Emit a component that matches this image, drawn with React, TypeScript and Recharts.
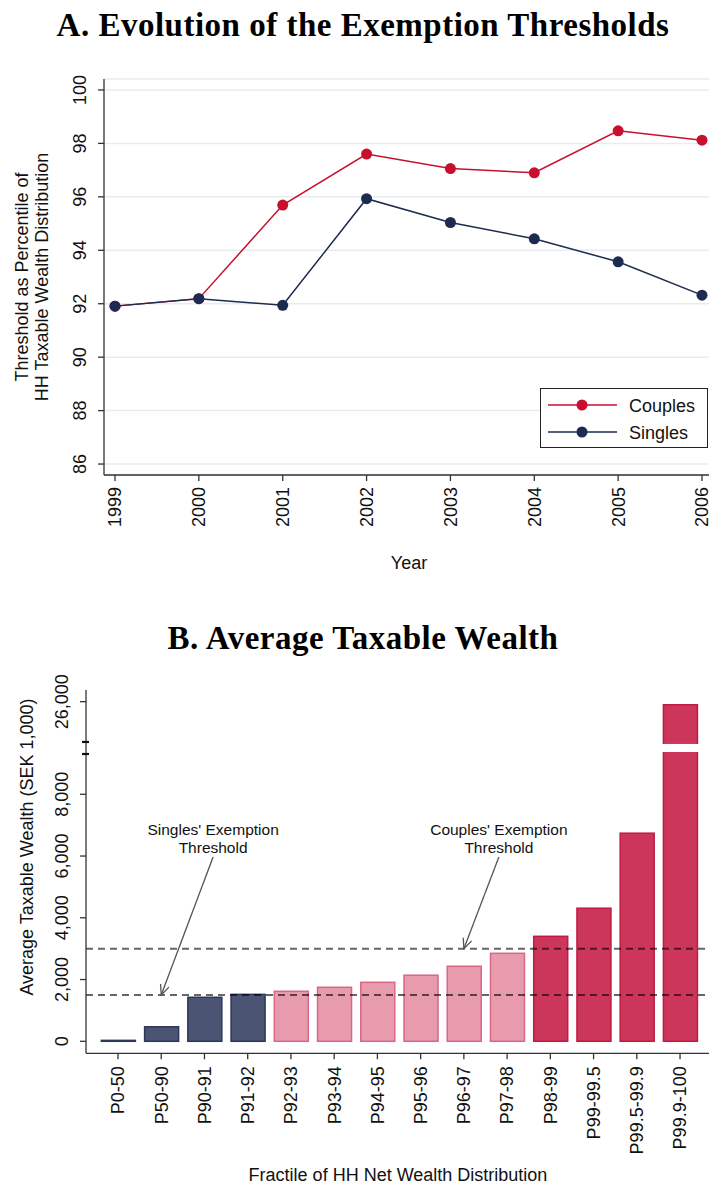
import React from 'react';
import {
  Bar,
  BarChart,
  CartesianGrid,
  Legend,
  Line,
  LineChart,
  ReferenceDot,
  ReferenceLine,
  XAxis,
  YAxis,
} from 'recharts';

// Panel A: exemption thresholds as percentile of the HH taxable wealth distribution
const YEARS = ['1999', '2000', '2001', '2002', '2003', '2004', '2005', '2006'];
const COUPLES = [91.91, 92.19, 95.69, 97.6, 97.06, 96.9, 98.47, 98.12];
const SINGLES = [91.91, 92.19, 91.94, 95.93, 95.04, 94.43, 93.57, 92.32];
const PERCENTILE_TICKS = [86, 88, 90, 92, 94, 96, 98, 100];

// Panel B: average taxable wealth by fractile (SEK 1,000)
const FRACTILES = [
  'P0-50', 'P50-90', 'P90-91', 'P91-92', 'P92-93', 'P93-94', 'P94-95',
  'P95-96', 'P96-97', 'P97-98', 'P98-99', 'P99-99.5', 'P99.5-99.9', 'P99.9-100',
];
const AVG_WEALTH = [30, 470, 1425, 1520, 1620, 1750, 1910, 2140, 2430, 2850, 3400, 4310, 6740, 25900];
const FRACTILE_GROUP = [
  'below', 'below', 'below', 'below',
  'between', 'between', 'between', 'between', 'between', 'between',
  'above', 'above', 'above', 'above',
];
const WEALTH_TICKS = [0, 2000, 4000, 6000, 8000, 26000];
const SINGLES_THRESHOLD = 1500;
const COUPLES_THRESHOLD = 3000;

const SANS = '"Liberation Sans", Arial, sans-serif';
const SERIF = '"Liberation Serif", "Times New Roman", serif';
const RED = '#c8102e';
const NAVY = '#1e2b50';
const AXIS = '#333';

const GROUP_STYLE: Record<string, { fill: string; stroke: string }> = {
  below: { fill: '#4b5573', stroke: '#2c375a' },
  between: { fill: '#e79bad', stroke: '#da6785' },
  above: { fill: '#cc365b', stroke: '#c11a43' },
};

// broken y axis in panel B: values above CUT_AT are pulled down by CUT_SIZE
const CUT_AT = 9500;
const CUT_SIZE = 15000;
const toAxis = (v: number) => (v > CUT_AT ? v - CUT_SIZE : v);
const fromAxis = (v: number) => (v > CUT_AT ? v + CUT_SIZE : v);
const BREAK_MARKS = [CUT_AT - 195, CUT_AT + 195];

const lineData = YEARS.map((year, i) => ({ year, couples: COUPLES[i], singles: SINGLES[i] }));
const barData = FRACTILES.map((label, i) => ({
  idx: i,
  label,
  wealth: AVG_WEALTH[i],
  axisValue: toAxis(AVG_WEALTH[i]),
  group: FRACTILE_GROUP[i],
}));

const tickText = { fontFamily: SANS, fontSize: 18, fill: '#111' };

// vertical tick label reading bottom-to-top, baseline at x + shift
function VerticalTick(props: any) {
  const { x, y, payload, anchor, shift = 0, format } = props;
  const bx = x + shift;
  const label = format ? format(payload.value) : payload.value;
  return (
    <text x={bx} y={y} transform={`rotate(-90 ${bx} ${y})`} textAnchor={anchor} {...tickText}>
      {label}
    </text>
  );
}

// y ticks of panel B, drawn by hand so the axis break marks can sit among them
function WealthTick(props: any) {
  const { x, y, payload } = props;
  const axisX = x + 17.5;
  if (BREAK_MARKS.includes(payload.value)) {
    return <line x1={axisX - 4} x2={axisX + 3} y1={y} y2={y} stroke="#111" strokeWidth={2.2} />;
  }
  return (
    <g>
      <line x1={axisX - 6} x2={axisX} y1={y} y2={y} stroke={AXIS} strokeWidth={1.3} />
      <text x={x} y={y} transform={`rotate(-90 ${x} ${y})`} textAnchor="middle" {...tickText}>
        {fromAxis(payload.value).toLocaleString('en-US')}
      </text>
    </g>
  );
}

function WealthBar(props: any) {
  const { x, y, width, height, payload } = props;
  const style = GROUP_STYLE[payload.group];
  const bar = (
    <rect x={x} y={y} width={width} height={height} fill={style.fill} stroke={style.stroke} strokeWidth={1.5} />
  );
  if (payload.wealth <= CUT_AT) return bar;
  const pxPerUnit = height / payload.axisValue;
  const base = y + height;
  const gapTop = base - (CUT_AT + 130) * pxPerUnit;
  const gapBottom = base - (CUT_AT - 130) * pxPerUnit;
  return (
    <g>
      {bar}
      <rect x={x - 2} y={gapTop} width={width + 4} height={gapBottom - gapTop} fill="#fff" />
    </g>
  );
}

function Arrow(props: any) {
  const { x1, y1, x2, y2 } = props;
  const angle = Math.atan2(y2 - y1, x2 - x1);
  const len = 11;
  const spread = 0.42;
  const ax = x2 - len * Math.cos(angle - spread);
  const ay = y2 - len * Math.sin(angle - spread);
  const bx = x2 - len * Math.cos(angle + spread);
  const by = y2 - len * Math.sin(angle + spread);
  return (
    <g stroke="#555" strokeWidth={1.3} fill="none">
      <line x1={x1} y1={y1} x2={x2} y2={y2} />
      <polyline points={`${ax},${ay} ${x2},${y2} ${bx},${by}`} />
    </g>
  );
}

function annotation(lines: string[]) {
  return (props: any) => {
    const { cx, cy } = props;
    return (
      <text x={cx} textAnchor="middle" fontFamily={SANS} fontSize={15.5} fill="#111">
        {lines.map((l, i) => (
          <tspan key={l} x={cx} y={cy - 22 + i * 18}>
            {l}
          </tspan>
        ))}
      </text>
    );
  };
}

function ThresholdLegend(props: any) {
  const items = props.payload || [];
  return (
    <svg width={168} height={60} style={{ display: 'block' }}>
      <rect x={0.5} y={0.5} width={167} height={59} fill="#fff" stroke="#222" strokeWidth={1} />
      {items.map((item: any, i: number) => {
        const cy = 17 + i * 27;
        return (
          <g key={item.value}>
            <line x1={8} x2={77} y1={cy} y2={cy} stroke={item.color} strokeWidth={1.5} />
            <circle cx={42} cy={cy} r={5.5} fill={item.color} />
            <text x={89} y={cy + 6.5} {...tickText}>
              {item.value}
            </text>
          </g>
        );
      })}
    </svg>
  );
}

const title = {
  position: 'absolute' as const,
  left: 0,
  width: 726,
  textAlign: 'center' as const,
  fontFamily: SERIF,
  fontWeight: 700,
  fontSize: 33,
  letterSpacing: 0.5,
  lineHeight: '30px',
  color: '#000',
  whiteSpace: 'nowrap' as const,
};

const axisTitle = {
  position: 'absolute' as const,
  fontFamily: SANS,
  fontSize: 18,
  lineHeight: '20px',
  color: '#111',
  whiteSpace: 'nowrap' as const,
  textAlign: 'center' as const,
  transform: 'translate(-50%, -50%)',
};

export default function App() {
  return (
    <div style={{ position: 'absolute', left: 0, top: 0, width: 709, height: 1201, background: '#fff', overflow: 'hidden' }}>
      <div style={{ ...title, top: 10 }}>A. Evolution of the Exemption Thresholds</div>

      <div style={{ position: 'absolute', left: 0, top: 0 }}>
        <LineChart width={709} height={600} data={lineData} margin={{ top: 79, right: 0, bottom: 65, left: 0 }}>
          <CartesianGrid vertical={false} stroke="#e6edf1" strokeWidth={1.5} />
          <XAxis
            dataKey="year"
            padding={{ left: 11, right: 7 }}
            height={60}
            interval={0}
            axisLine={{ stroke: AXIS, strokeWidth: 1.3 }}
            tickLine={{ stroke: AXIS, strokeWidth: 1.3 }}
            tickSize={6}
            tickMargin={6}
            tick={(p: any) => <VerticalTick {...p} anchor="end" shift={6.4} />}
          />
          <YAxis
            domain={[85.59, 100.41]}
            ticks={PERCENTILE_TICKS}
            allowDataOverflow
            width={104}
            interval={0}
            axisLine={{ stroke: AXIS, strokeWidth: 1.3 }}
            tickLine={{ stroke: AXIS, strokeWidth: 1.3 }}
            tickSize={6}
            tickMargin={11.5}
            tick={(p: any) => <VerticalTick {...p} anchor="middle" />}
          />
          <Line
            dataKey="couples"
            name="Couples"
            stroke={RED}
            strokeWidth={1.5}
            dot={{ r: 5.5, fill: RED, stroke: RED, strokeWidth: 0 }}
            isAnimationActive={false}
          />
          <Line
            dataKey="singles"
            name="Singles"
            stroke={NAVY}
            strokeWidth={1.5}
            dot={{ r: 5.5, fill: NAVY, stroke: NAVY, strokeWidth: 0 }}
            isAnimationActive={false}
          />
          <Legend
            layout="horizontal"
            verticalAlign="middle"
            align="center"
            wrapperStyle={{ left: 540, top: 388, width: 168, height: 60 }}
            content={(p: any) => <ThresholdLegend {...p} />}
          />
        </LineChart>
      </div>

      <div style={{ ...axisTitle, left: 32, top: 277, transform: 'translate(-50%, -50%) rotate(-90deg)' }}>
        Threshold as Percentile of
        <br />
        HH Taxable Wealth Distribution
      </div>
      <div style={{ ...axisTitle, left: 409, top: 563 }}>Year</div>

      <div style={{ ...title, top: 623 }}>B. Average Taxable Wealth</div>

      <div style={{ position: 'absolute', left: 0, top: 600 }}>
        <BarChart width={709} height={601} data={barData} margin={{ top: 90, right: 0, bottom: 47.7, left: 0 }}>
          <XAxis
            type="number"
            dataKey="idx"
            domain={[-0.74, 13.67]}
            allowDataOverflow
            ticks={FRACTILES.map((_, i) => i)}
            interval={0}
            height={100}
            axisLine={{ stroke: AXIS, strokeWidth: 1.3 }}
            tickLine={{ stroke: AXIS, strokeWidth: 1.3 }}
            tickSize={6}
            tickMargin={7}
            tick={(p: any) => (
              <VerticalTick {...p} anchor="end" shift={6.4} format={(v: number) => FRACTILES[v]} />
            )}
          />
          <YAxis
            domain={[-389, 11378]}
            allowDataOverflow
            ticks={[...WEALTH_TICKS.map(toAxis), ...BREAK_MARKS]}
            interval={0}
            width={86}
            axisLine={{ stroke: AXIS, strokeWidth: 1.3 }}
            tickLine={false}
            tickSize={6}
            tickMargin={11.5}
            tick={(p: any) => <WealthTick {...p} />}
          />
          <Bar dataKey="axisValue" barSize={34} shape={(p: any) => <WealthBar {...p} />} isAnimationActive={false} />
          <ReferenceLine y={SINGLES_THRESHOLD} stroke="rgba(0,0,0,0.6)" strokeWidth={2} strokeDasharray="7 5" />
          <ReferenceLine y={COUPLES_THRESHOLD} stroke="rgba(0,0,0,0.6)" strokeWidth={2} strokeDasharray="7 5" />
          <ReferenceLine
            segment={[{ x: 2.2, y: 5970 }, { x: 1, y: SINGLES_THRESHOLD }]}
            shape={(p: any) => <Arrow {...p} />}
          />
          <ReferenceLine
            segment={[{ x: 8.81, y: 5970 }, { x: 8, y: COUPLES_THRESHOLD }]}
            shape={(p: any) => <Arrow {...p} />}
          />
          <ReferenceDot x={2.2} y={5970} r={0} shape={annotation(["Singles' Exemption", 'Threshold'])} />
          <ReferenceDot x={8.81} y={5970} r={0} shape={annotation(["Couples' Exemption", 'Threshold'])} />
        </BarChart>
      </div>

      <div style={{ ...axisTitle, left: 27, top: 847, transform: 'translate(-50%, -50%) rotate(-90deg)' }}>
        Average Taxable Wealth (SEK 1,000)
      </div>
      <div style={{ ...axisTitle, left: 398, top: 1175 }}>Fractile of HH Net Wealth Distribution</div>
    </div>
  );
}
